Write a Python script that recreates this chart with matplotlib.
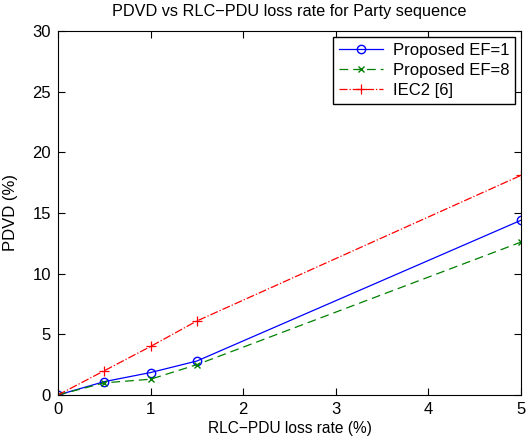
import numpy as np
import matplotlib.pyplot as plt

plt.rcParams['font.family'] = ['Liberation Sans', 'DejaVu Sans']

# data
loss_rate = [0, 0.5, 1, 1.5, 5]
pdvd_ef1 = [0, 1.1, 1.85, 2.8, 14.4]
pdvd_ef8 = [0, 1.0, 1.3, 2.5, 12.6]
pdvd_iec2 = [0, 2.0, 4.0, 6.1, 18.1]

fig = plt.figure(figsize=(5.3, 4.4), dpi=100)
ax = fig.add_axes([0.1094, 0.1023, 0.8736, 0.8273])

ax.plot(loss_rate, pdvd_ef1, 'b-', marker='o', markersize=6, markerfacecolor='none',
        linewidth=0.9, label='Proposed EF=1')
ax.plot(loss_rate, pdvd_ef8, color='#008000', linestyle='--', marker='x', markersize=4,
        linewidth=0.9, dashes=(7, 4), label='Proposed EF=8')
ax.plot(loss_rate, pdvd_iec2, 'r-.', marker='+', markersize=7, markeredgewidth=0.9,
        linewidth=0.9, label='IEC2 [6]')

ax.set_xlim(0, 5)
ax.set_ylim(0, 30)
ax.set_xticks([0, 1, 2, 3, 4, 5])
ax.set_yticks([0, 5, 10, 15, 20, 25, 30])
ax.tick_params(direction='in', top=True, right=True, labelsize=12, length=5, pad=5)

ax.set_xlabel('RLC\u2212PDU loss rate (%)', fontsize=11.2, labelpad=3)
ax.set_ylabel('PDVD (%)', fontsize=12)
ax.yaxis.set_label_coords(-0.086, 0.5)
ax.set_title('PDVD vs RLC\u2212PDU loss rate for Party sequence', fontsize=11.7, pad=11)

leg = ax.legend(loc='upper right', fontsize=12, fancybox=False, framealpha=1,
                handlelength=2.6, borderaxespad=0.36, labelspacing=0.3,
                borderpad=0.35, handletextpad=0.6)
leg.get_frame().set_edgecolor('black')

plt.savefig('out.png', dpi=100)
